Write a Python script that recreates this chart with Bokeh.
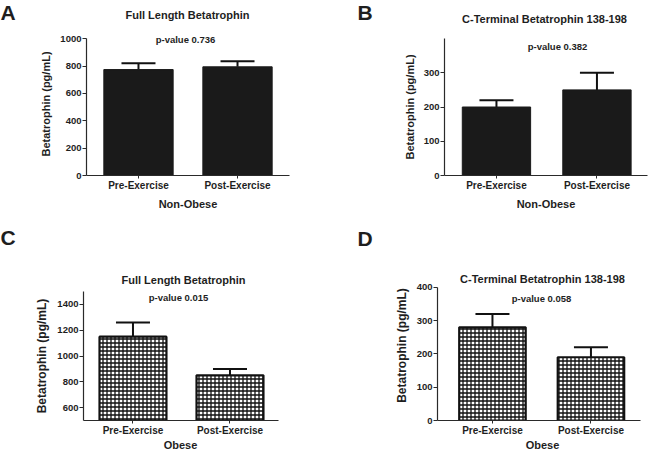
from bokeh.plotting import figure
from bokeh.layouts import row, column
from bokeh.models import (Range1d, FixedTicker, Label, Whisker, TeeHead,
                          ColumnDataSource)
from bokeh.embed import file_html
from bokeh.resources import INLINE

# ---------------- data ----------------
categories = ["Pre-Exercise", "Post-Exercise"]

a_values = [775, 795]
a_errors = [47, 41]
b_values = [200, 250]
b_errors = [20, 50]
c_values = [1150, 850]
c_errors = [110, 50]
d_values = [280, 190]
d_errors = [40, 30]

a_ticks = [0, 200, 400, 600, 800, 1000]
b_ticks = [0, 100, 200, 300, 400]
c_ticks = [600, 800, 1000, 1200, 1400]
d_ticks = [0, 100, 200, 300, 400]

panel_letters = ["A", "B", "C", "D"]
panel_titles = ["Full Length Betatrophin", "C-Terminal Betatrophin 138-198",
                "Full Length Betatrophin", "C-Terminal Betatrophin 138-198"]
p_values = ["p-value 0.736", "p-value 0.382", "p-value 0.015", "p-value 0.058"]
group_labels = ["Non-Obese", "Non-Obese", "Obese", "Obese"]
y_label = "Betatrophin (pg/mL)"

FONT = "Liberation Sans"
TXT = "#1e1e1e"
INK = "#111111"


def text_strip(W, H, origin, items):
    """A bare figure used only to carry free text (letters, titles)."""
    s = figure(width=W, height=H, output_backend="svg", toolbar_location=None,
               x_range=Range1d(0, 1), y_range=Range1d(0, 1),
               x_axis_location=None, y_axis_location=None, min_border=0,
               min_border_left=0, min_border_right=0, min_border_top=0,
               min_border_bottom=0, outline_line_color=None,
               background_fill_color="white", border_fill_color="white",
               frame_align=False)
    s.grid.visible = False
    ox, oy = origin
    for text, (px, py), size, align, baseline in items:
        s.add_layout(Label(x=px - ox, y=(oy + H) - py, x_units="screen",
                           y_units="screen", text=text, text_font=FONT,
                           text_font_style="bold", text_font_size=size,
                           text_color=TXT, text_align=align,
                           text_baseline=baseline))
    return s


def main_panel(values, errors, ticks, y_bounds, x_range, pval, group,
               origin, size, frame_page, bar_width, hatched, p_pos,
               group_on_axis, ylab_size, axis_top_px=None, extra=()):
    ox, oy = origin
    W, H = size
    fl, ft, fr, fb = frame_page
    y0, y1 = y_bounds
    # the axis line ends at y1; the frame may reach a little higher
    if axis_top_px is None:
        axis_top_px = ft
    ppu = (fb - axis_top_px) / (y1 - y0)
    y_end = y0 + (fb - ft) / ppu
    p = figure(width=W, height=H, output_backend="svg", toolbar_location=None,
               x_range=Range1d(*x_range), y_range=Range1d(y0, y_end),
               min_border_left=fl - ox, min_border_top=ft - oy,
               min_border_right=(ox + W) - fr, min_border_bottom=(oy + H) - fb,
               background_fill_color="white", border_fill_color="white",
               outline_line_color=None, frame_align=False)
    p.grid.visible = False

    xs = [i + 0.5 for i in range(len(categories))]
    src = ColumnDataSource(dict(x=xs, top=values,
                                upper=[v + e for v, e in zip(values, errors)]))

    if hatched:
        p.vbar(x="x", top="top", bottom=0, width=bar_width, source=src,
               fill_color="white", line_color=INK, line_width=2.2,
               hatch_pattern="+", hatch_color=INK, hatch_scale=4,
               hatch_weight=1.3)
    else:
        p.vbar(x="x", top="top", bottom=0, width=bar_width, source=src,
               fill_color="#1a1a1a", line_color="#1a1a1a", line_width=1)

    w = Whisker(base="x", lower="top", upper="upper", source=src,
                dimension="height", line_color=INK, line_width=2,
                upper_head=TeeHead(size=34, line_color=INK, line_width=2),
                lower_head=None)
    p.add_layout(w)

    p.xaxis.ticker = FixedTicker(ticks=xs)
    p.xaxis.major_label_overrides = {x: c for x, c in zip(xs, categories)}
    p.xaxis.minor_tick_line_color = None
    p.xaxis.major_tick_out = 3
    p.xaxis.major_tick_in = 0
    p.xaxis.major_label_standoff = 1
    p.yaxis.ticker = FixedTicker(ticks=ticks)
    p.yaxis.bounds = (y0, y1)
    p.yaxis.minor_tick_line_color = None
    p.yaxis.major_tick_out = 4
    p.yaxis.major_tick_in = 0
    p.yaxis.major_label_standoff = 1
    for ax in (p.xaxis, p.yaxis):
        ax.axis_line_color = "#2a2a2a"
        ax.major_tick_line_color = "#2a2a2a"
        ax.axis_line_width = 1.2
        ax.major_label_text_font = FONT
        ax.major_label_text_font_style = "bold"
        ax.major_label_text_color = TXT
        ax.axis_label_text_font = FONT
        ax.axis_label_text_font_style = "bold"
        ax.axis_label_text_color = TXT
    p.xaxis.major_label_text_font_size = "10px"
    p.yaxis.major_label_text_font_size = "9.5px"
    p.yaxis.axis_label = y_label
    p.yaxis.axis_label_text_font_size = ylab_size
    p.yaxis.axis_label_standoff = 5
    if group_on_axis:
        p.xaxis.axis_label = group
        p.xaxis.axis_label_text_font_size = "11px"
        p.xaxis.axis_label_standoff = 4

    items = [(pval, p_pos, "9.5px")] + list(extra)
    for text, (px, py), fsize in items:
        p.add_layout(Label(x=px - fl, y=fb - py, x_units="screen",
                           y_units="screen", text=text, text_font=FONT,
                           text_font_style="bold", text_font_size=fsize,
                           text_color=TXT, text_align="center",
                           text_baseline="middle"))
    return p


# The page is drawn from the window's top-left corner (0, 0).
# ---------- panel A ----------
topA = text_strip(324, 28, (0, 0), [
    (panel_letters[0], (0, 0), "21px", "left", "top"),
    (panel_titles[0], (187, 14), "11px", "center", "middle")])
pa = main_panel(a_values, a_errors, a_ticks, (0, 1000), (-0.025, 2.025),
                p_values[0], group_labels[0], (0, 28), (324, 197),
                (86, 32, 289, 175), 0.70, False, (185, 39), True, "11px",
                axis_top_px=38.3)

# ---------- panel B ----------
topB = text_strip(324, 28, (324, 0), [
    (panel_letters[1], (357, 0), "21px", "left", "top"),
    (panel_titles[1], (544, 18), "11px", "center", "middle")])
pb = main_panel(b_values, b_errors, b_ticks, (0, 400), (-0.017, 2.003),
                p_values[1], group_labels[1], (324, 28), (324, 197),
                (444, 38, 647, 175), 0.68, False, (557, 46), True, "11px")

# ---------- panel C ----------
topC = text_strip(324, 63, (0, 225), [
    (panel_letters[2], (0, 225), "21px", "left", "top"),
    (panel_titles[2], (183, 279), "11px", "center", "middle")])
pc = main_panel(c_values, c_errors, c_ticks, (500, 1500), (-0.01, 2.0),
                p_values[2], group_labels[2], (0, 288), (324, 150),
                (83, 291, 278, 422), 0.69, True, (178, 299), False, "12px")
botC = text_strip(324, 13, (0, 438), [
    (group_labels[2], (180, 438), "11px", "center", "top")])

# ---------- panel D ----------
topD = text_strip(324, 45, (324, 225), [
    (panel_letters[3], (357, 226), "21px", "left", "top")])
pd_ = main_panel(d_values, d_errors, d_ticks, (0, 400), (-0.058, 2.003),
                 p_values[3], group_labels[3], (324, 270), (324, 168),
                 (437, 270, 640, 421), 0.675, True, (541, 299), False, "12px",
                 axis_top_px=287, extra=[(panel_titles[3], (542, 279), "11px")])
botD = text_strip(324, 13, (324, 438), [
    (group_labels[3], (542, 438), "11px", "center", "top")])

layout = column(
    row(column(topA, pa), column(topB, pb)),
    row(column(topC, pc, botC), column(topD, pd_, botD)),
)
open("out.html", "w").write(file_html(layout, INLINE))
